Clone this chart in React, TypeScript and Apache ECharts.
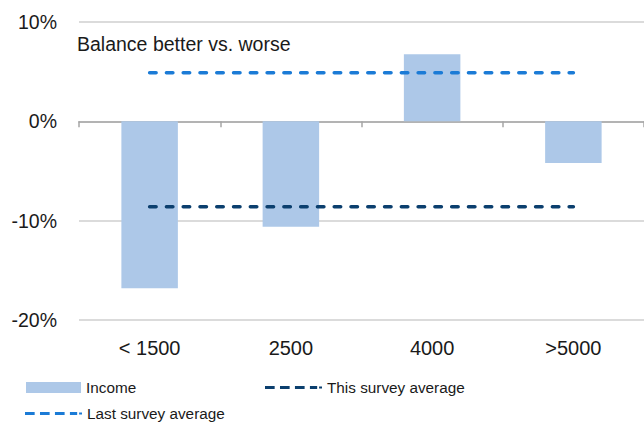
import React, { useEffect, useRef } from "react";
import * as echarts from "echarts";

const categories = ["< 1500", "2500", "4000", ">5000"];
const incomeValues = [-16.8, -10.6, 6.75, -4.2];
const thisSurveyAvg = [-8.6, -8.6, -8.6, -8.6];
const lastSurveyAvg = [4.9, 4.9, 4.9, 4.9];
const yTicks = { min: -20, max: 10, interval: 10 };

const FONT = "'Liberation Sans', Arial, sans-serif";
const TEXT = "#1a1a1a";
const DASH_ICON =
  "path://M0,0H10V3H0Z M15.5,0H25.5V3H15.5Z M31,0H41V3H31Z M46.5,0H54V3H46.5Z M56,0.5H59V2.5H56Z";

export default function App() {
  const ref = useRef<HTMLDivElement>(null);
  useEffect(() => {
    if (!ref.current) return;
    const chart = echarts.init(ref.current, null, { renderer: "svg" });
    const legendText = { fontFamily: FONT, fontSize: 15.3, color: TEXT };
    chart.setOption({
      animation: false,
      backgroundColor: "#ffffff",
      title: {
        text: "Balance better vs. worse",
        left: 72,
        top: 29,
        textStyle: { fontFamily: FONT, fontSize: 19.5, fontWeight: "normal", color: TEXT },
      },
      legend: [
        {
          data: [{ name: "Income", icon: "rect" }],
          left: 21,
          top: 375,
          itemWidth: 55,
          itemHeight: 11,
          textStyle: legendText,
        },
        {
          data: [{ name: "This survey average", icon: DASH_ICON }],
          left: 260,
          top: 375,
          itemWidth: 57,
          itemHeight: 3.5,
          textStyle: legendText,
        },
        {
          data: [{ name: "Last survey average", icon: DASH_ICON }],
          left: 20,
          top: 401,
          itemWidth: 57,
          itemHeight: 3.5,
          textStyle: legendText,
        },
      ],
      grid: { left: 79, top: 22, width: 568, height: 298, containLabel: false },
      xAxis: [
        {
          type: "category",
          data: categories,
          position: "bottom",
          axisLine: { show: false, onZero: false },
          axisTick: { show: false },
          axisLabel: { fontFamily: FONT, fontSize: 20, color: TEXT, margin: 18 },
        },
        {
          type: "category",
          data: categories,
          position: "bottom",
          axisLine: { show: true, onZero: true, lineStyle: { color: "#a6a6a6", width: 1.5 } },
          axisTick: { show: true, length: 6, lineStyle: { color: "#a6a6a6", width: 1.5 } },
          axisLabel: { show: false },
        },
      ],
      yAxis: {
        type: "value",
        min: yTicks.min,
        max: yTicks.max,
        interval: yTicks.interval,
        axisLine: { show: false },
        axisTick: { show: false },
        axisLabel: {
          fontFamily: FONT,
          fontSize: 19.5,
          color: TEXT,
          margin: 22,
          formatter: (v: number) => `${v}%`,
        },
        splitLine: { lineStyle: { color: "#cfcfcf", width: 1.5 } },
      },
      series: [
        {
          name: "Income",
          type: "bar",
          data: incomeValues,
          barWidth: "40%",
          itemStyle: { color: "#adc8e8" },
          xAxisIndex: 0,
        },
        {
          name: "This survey average",
          type: "line",
          data: thisSurveyAvg,
          symbol: "none",
          lineStyle: { color: "#0b3f6e", width: 3.5, type: [6.5, 10.28], cap: "round" },
          itemStyle: { color: "#0b3f6e" },
          xAxisIndex: 0,
        },
        {
          name: "Last survey average",
          type: "line",
          data: lastSurveyAvg,
          symbol: "none",
          lineStyle: { color: "#1b7bd6", width: 3.5, type: [6.5, 10.28], cap: "round" },
          itemStyle: { color: "#1b7bd6" },
          xAxisIndex: 0,
        },
      ],
    });
    return () => chart.dispose();
  }, []);
  return (
    <div
      ref={ref}
      style={{ position: "fixed", left: 0, top: 0, width: 644, height: 423 }}
    />
  );
}
